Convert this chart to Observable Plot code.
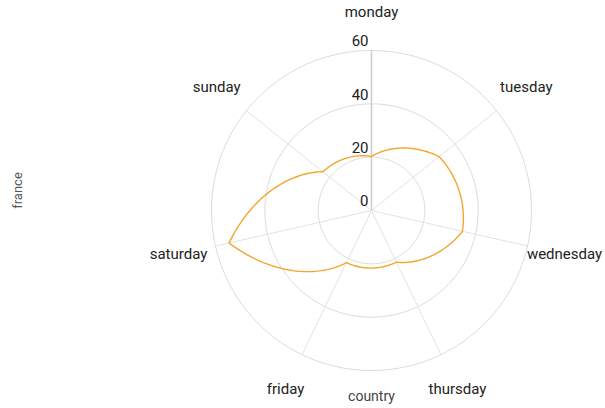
<!DOCTYPE html>
<html>
<head>
<meta charset="utf-8">
<script src="https://cdn.jsdelivr.net/npm/d3@7"></script>
<script src="https://cdn.jsdelivr.net/npm/@observablehq/plot@0.6"></script>
<style>
  html, body { margin: 0; padding: 0; background: #fff; }
  #chart { width: 605px; height: 408px; }
  svg { font-family: Roboto, "Noto Sans", sans-serif; }
</style>
</head>
<body>
<div id="chart"></div>
<script>
const days = ["monday", "tuesday", "wednesday", "thursday", "friday", "saturday", "sunday"];
const france = [20.3, 32.4, 35, 21.5, 21.7, 54.8, 23.3];
const tickValues = [0, 20, 40, 60];
const ringValues = [20, 40, 60];
const maxValue = 60;
const labelValue = 74.25;

const W = 605, H = 408;
const inset = {top: 50, right: 74, bottom: 38, left: 211};
const cx = (inset.left + (W - inset.right)) / 2;
const cy = (inset.top + (H - inset.bottom)) / 2;

// closed curve drawn around the chart centre: the radius changes smoothly with the angle
function polarClosed(context) {
  let pts = [];
  return {
    areaStart() {}, areaEnd() {},
    lineStart() { pts = []; },
    point(x, y) { pts.push([x, y]); },
    lineEnd() {
      if (!pts.length) return;
      const polar = pts.map(([x, y]) => [Math.hypot(x - cx, y - cy), Math.atan2(y - cy, x - cx)]);
      context.moveTo(pts[0][0], pts[0][1]);
      for (let k = 0; k < polar.length; ++k) {
        const [r1, a1] = polar[k];
        const [r2, a2] = polar[(k + 1) % polar.length];
        let da = a2 - a1;
        while (da > Math.PI) da -= 2 * Math.PI;
        while (da <= -Math.PI) da += 2 * Math.PI;
        const steps = 48;
        for (let s = 1; s <= steps; ++s) {
          const t = s / steps;
          const rl = r1 + (r2 - r1) * t;
          const rg = r1 * Math.pow(r2 / r1, t);
          const r = (rl + rg) / 2, a = a1 + da * t;
          context.lineTo(cx + r * Math.cos(a), cy + r * Math.sin(a));
        }
      }
      context.closePath();
    }
  };
}

const lon = (i) => 180 - i * 360 / days.length;
const rows = days.map((d, i) => ({day: d, lon: lon(i), lat: 90 - france[i]}));
const spokes = days.map((d, i) => ({lon: lon(i), axis: i === 0}));

const chart = Plot.plot({
  width: W,
  height: H,
  margin: 0,
  style: {fontFamily: "Roboto, sans-serif", fontSize: "15px", color: "#222", background: "#fff"},
  projection: {
    type: "azimuthal-equidistant",
    rotate: [0, -90],
    domain: d3.geoCircle().center([0, 90]).radius(maxValue)(),
    insetTop: inset.top, insetRight: inset.right, insetBottom: inset.bottom, insetLeft: inset.left
  },
  marks: [
    Plot.geo(ringValues, {
      geometry: (r) => d3.geoCircle().center([0, 90]).radius(r)(),
      stroke: "#dcdcdc", fill: "none", strokeWidth: 1
    }),
    Plot.link(spokes, {
      x1: "lon", y1: 90, x2: "lon", y2: 90 - maxValue,
      stroke: (d) => d.axis ? "#cccccc" : "#e3e3e3", strokeWidth: (d) => d.axis ? 1.5 : 1
    }),
    Plot.line(rows, {
      x: "lon", y: "lat", curve: polarClosed,
      stroke: "#f5a52e", strokeWidth: 1.4, fill: "none"
    }),
    Plot.text(tickValues, {
      x: 180, y: (v) => 90 - v, text: (v) => String(v),
      textAnchor: "end", dx: -3, dy: -9, fontSize: 15, fill: "#222"
    }),
    Plot.text(days, {
      x: (d, i) => lon(i), y: 90 - labelValue, text: (d) => d,
      textAnchor: "middle", fontSize: 15, fill: "#222"
    }),
    Plot.text(["country"], {
      frameAnchor: "bottom", dx: cx - W / 2, dy: -8, text: (d) => d, fontSize: 14, fill: "#444"
    }),
    Plot.text(["france"], {
      frameAnchor: "left", dx: 17, dy: 190 - H / 2, rotate: -90, textAnchor: "middle",
      text: (d) => d, fontSize: 13, fill: "#555"
    })
  ]
});
document.getElementById("chart").appendChild(chart);
</script>
</body>
</html>
